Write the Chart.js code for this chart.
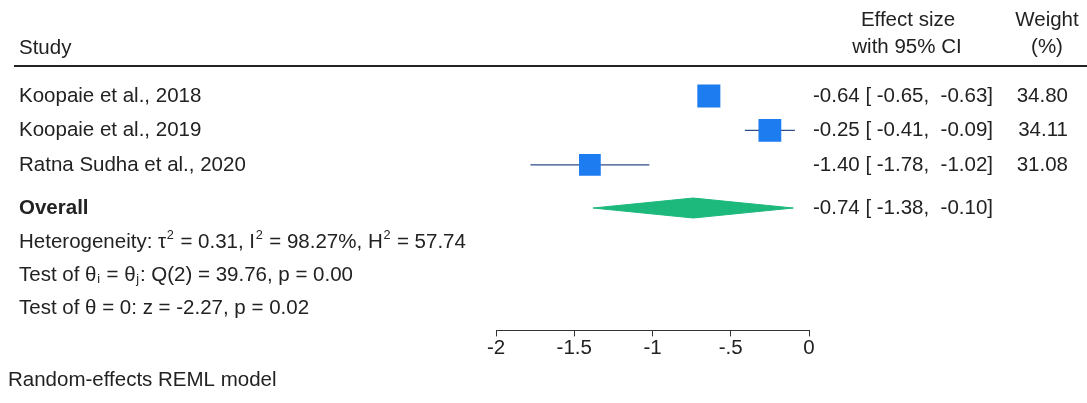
<!DOCTYPE html>
<html>
<head>
<meta charset="utf-8">
<script src="https://cdn.jsdelivr.net/npm/chart.js@4/dist/chart.umd.min.js"></script>
<style>
  html, body { margin: 0; padding: 0; background: #fff; }
  #wrap { width: 1087px; height: 403px; }
</style>
</head>
<body>
<div id="wrap"><canvas id="forest" width="1087" height="403"></canvas></div>
<script>
// study level results
const studies = ["Koopaie et al., 2018", "Koopaie et al., 2019", "Ratna Sudha et al., 2020"];
const effect = [-0.64, -0.25, -1.40];
const ciLow = [-0.65, -0.41, -1.78];
const ciHigh = [-0.63, -0.09, -1.02];
const weight = [34.80, 34.11, 31.08];

// pooled estimate: [effect, low, high]
const overall = [-0.74, -1.38, -0.10];

// heterogeneity / tests
const tau2 = "0.31", i2 = "98.27%", h2 = "57.74";
const qDf = "2", qStat = "39.76", qP = "0.00";
const zStat = "-2.27", zP = "0.02";

const xTicks = [-2, -1.5, -1, -0.5, 0];

// row positions on the (hidden) y axis
const studyRows = [1, 2, 3];
const overallRow = 4.25;
const statRows = [5.24, 6.2, 7.16];

const FONT = "'Liberation Sans', Arial, sans-serif";
const FS = 20.5;
const TXT = "#222";
const BLUE = "#1c7cf0";
const GREEN = "#1cb87c";

Chart.defaults.font.family = FONT;
Chart.defaults.font.size = FS;
Chart.defaults.color = TXT;

const fmt = v => v.toFixed(2);

const ciSets = studies.map((s, i) => ({
  data: [{ x: ciLow[i], y: studyRows[i] }, { x: ciHigh[i], y: studyRows[i] }],
  showLine: true,
  borderColor: "#2f4f86",
  borderWidth: 1.3,
  pointRadius: 0,
  order: 2
}));

const squares = {
  data: studies.map((s, i) => ({ x: effect[i], y: studyRows[i] })),
  pointStyle: "rect",
  pointRadius: ctx => 2.76 * Math.sqrt(weight[ctx.dataIndex]),
  backgroundColor: BLUE,
  borderWidth: 0,
  showLine: false,
  order: 0
};

const dh = 0.29; // half height of the pooled diamond
const diamond = {
  data: [
    { x: overall[1], y: overallRow },
    { x: overall[0], y: overallRow - dh },
    { x: overall[2], y: overallRow },
    { x: overall[0], y: overallRow + dh },
    { x: overall[1], y: overallRow }
  ],
  showLine: true,
  fill: "shape",
  backgroundColor: GREEN,
  borderColor: GREEN,
  borderWidth: 1,
  pointRadius: 0,
  tension: 0,
  order: 1
};

// draws a line of text with optional super/subscript pieces
function drawRich(ctx, parts, x, y) {
  let cx = x;
  parts.forEach(p => {
    let size = FS, yy = y, gap = 0;
    if (p.sup) { size = FS * 0.62; yy = y - FS * 0.33; gap = 1.5; }
    if (p.sub) { size = FS * 0.62; yy = y + FS * 0.22; gap = 1.5; }
    ctx.font = `${p.bold ? "bold " : ""}${size}px ${FONT}`;
    ctx.fillText(p.t, cx + gap / 2, yy);
    cx += ctx.measureText(p.t).width + gap;
  });
}

const tablePlugin = {
  id: "forestTable",
  afterDraw(chart) {
    const ctx = chart.ctx;
    const ys = chart.scales.y;
    ctx.save();
    ctx.fillStyle = TXT;
    ctx.textBaseline = "middle";

    // header
    ctx.font = `${FS}px ${FONT}`;
    ctx.textAlign = "left";
    ctx.fillText("Study", 19, 48);
    ctx.textAlign = "center";
    ctx.fillText("Effect size", 908, 20);
    ctx.fillText("with 95% CI", 907, 47);
    ctx.fillText("Weight", 1047, 20);
    ctx.fillText("(%)", 1047, 47);

    ctx.strokeStyle = "#222";
    ctx.lineWidth = 2;
    ctx.beginPath();
    ctx.moveTo(14, 66);
    ctx.lineTo(1087, 66);
    ctx.stroke();

    // study rows
    studies.forEach((s, i) => {
      const y = ys.getPixelForValue(studyRows[i]);
      ctx.textAlign = "left";
      ctx.fillText(s, 19, y);
      ctx.textAlign = "right";
      ctx.fillText(`${fmt(effect[i])} [ ${fmt(ciLow[i])},  ${fmt(ciHigh[i])}]`, 993, y);
      ctx.fillText(fmt(weight[i]), 1068, y);
    });

    // overall row
    const yo = ys.getPixelForValue(overallRow);
    ctx.textAlign = "left";
    ctx.font = `bold ${FS}px ${FONT}`;
    ctx.fillText("Overall", 19, yo);
    ctx.font = `${FS}px ${FONT}`;
    ctx.textAlign = "right";
    ctx.fillText(`${fmt(overall[0])} [ ${fmt(overall[1])},  ${fmt(overall[2])}]`, 993, yo);

    // statistics
    ctx.textAlign = "left";
    drawRich(ctx, [
      { t: "Heterogeneity: \u03c4" }, { t: "2", sup: true },
      { t: " = " + tau2 + ", I" }, { t: "2", sup: true },
      { t: " = " + i2 + ", H" }, { t: "2", sup: true },
      { t: " = " + h2 }
    ], 19, ys.getPixelForValue(statRows[0]));
    drawRich(ctx, [
      { t: "Test of \u03b8" }, { t: "i", sub: true },
      { t: " = \u03b8" }, { t: "j", sub: true },
      { t: ": Q(" + qDf + ") = " + qStat + ", p = " + qP }
    ], 19, ys.getPixelForValue(statRows[1]));
    drawRich(ctx, [
      { t: "Test of \u03b8 = 0: z = " + zStat + ", p = " + zP }
    ], 19, ys.getPixelForValue(statRows[2]));

    ctx.font = `${FS}px ${FONT}`;
    ctx.fillText("Random-effects REML model", 8, 380);
    ctx.restore();
  }
};

new Chart(document.getElementById("forest"), {
  type: "scatter",
  data: { datasets: [squares, diamond, ...ciSets] },
  options: {
    responsive: false,
    animation: false,
    events: [],
    devicePixelRatio: 1,
    layout: { padding: { left: 496, right: 278, top: 61.5, bottom: 42 } },
    plugins: { legend: { display: false }, tooltip: { enabled: false } },
    scales: {
      x: {
        type: "linear",
        min: xTicks[0],
        max: xTicks[xTicks.length - 1],
        afterBuildTicks: axis => { axis.ticks = xTicks.map(v => ({ value: v })); },
        grid: { drawOnChartArea: false, drawTicks: true, tickLength: 6, color: "#333", lineWidth: 1 },
        border: { display: true, color: "#333", width: 1 },
        ticks: {
          padding: 0,
          maxRotation: 0,
          color: TXT,
          font: { size: FS },
          callback: v => String(v).replace("0.", ".")
        }
      },
      y: {
        type: "linear",
        display: false,
        reverse: true,
        min: 0,
        max: 7.8
      }
    }
  },
  plugins: [tablePlugin]
});
</script>
</body>
</html>
